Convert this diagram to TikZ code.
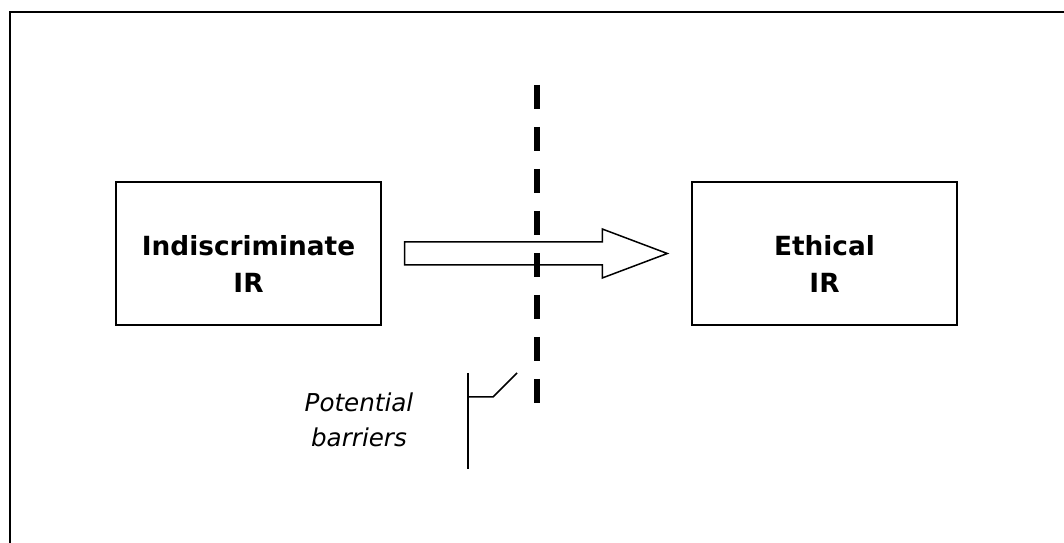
\documentclass[tikz,border=0pt]{standalone}
\usepackage{fontspec}
\setmainfont{DejaVu Sans}
\usetikzlibrary{positioning, calc}

\begin{document}
\begin{tikzpicture}[
    x=0.02cm, y=-0.02cm, % 按像素坐标布局 (y 轴向下)
    % 定义组件样式
    irbox/.style={draw=black, line width=0.03cm, minimum width=5.3cm, minimum height=2.86cm, inner sep=0pt},
    irlabel/.style={align=center, font=\fontsize{15}{21}\selectfont\bfseries},
    notelabel/.style={align=center, font=\fontsize{14}{19.8}\selectfont\itshape},
    blockarrow/.style={draw=black, fill=white, line width=0.03cm, line join=miter},
    barrier/.style={draw=black, line width=0.12cm, dash pattern=on 0.48cm off 0.36cm},
    line/.style={-, draw=black, line width=0.03cm},
    frame/.style={draw=black, line width=0.05cm}
]

% 核心 Y 轴高度定义
\def\Midheight{253.5} % 两个方框的中线
\def\Textheight{264}  % 方框内文字的中心

\useasboundingbox (0,0) rectangle (1064,543);

% ==========================================
% 1. 外框 (只有左边与上边落在画面内)
% ==========================================
\draw[frame] (10,560) |- (1080,12);

% ==========================================
% 2. 两个方框与文字
% ==========================================
\node[irbox] (indis) at (248.5, \Midheight) {};
\node[irbox] (ethic) at (824.5, \Midheight) {};

\node[irlabel] (indis_txt) at (248.5, \Textheight) {Indiscriminate\\IR};
\node[irlabel] (ethic_txt) at (824.5, \Textheight) {Ethical\\IR};

% ==========================================
% 3. 中间的空心箭头 (两端与方框留出空隙)
% ==========================================
\coordinate (tail) at ($(indis.east)+(23,0)$);
\coordinate (tip)  at ($(ethic.west)+(-24,0)$);
\draw[blockarrow] ($(tail)+(0,-11.5)$) -- ($(tip)+(-65,-11.5)$) -- ($(tip)+(-65,-24.5)$)
    -- (tip) -- ($(tip)+(-65,24.5)$) -- ($(tip)+(-65,11.5)$) -- ($(tail)+(0,11.5)$) -- cycle;

% ==========================================
% 4. 虚线屏障 (压在箭头上方)
% ==========================================
\coordinate (bar_top) at (537, 85);
\coordinate (bar_bot) at (537, 403);
\draw[barrier] (bar_top) -- (bar_bot);

% ==========================================
% 5. 标注与引线
% ==========================================
\node[notelabel] (note) at (359, 420) {Potential\\barriers};

\coordinate (brace_top) at (468, 373);
\coordinate (brace_bot) at (468, 469);
\coordinate (brace_mid) at (468, 397);
\draw[line] (brace_top) -- (brace_bot);
\draw[line] (brace_mid) -- ++(25,0) -- ++(24,-24); % 折线指向屏障

\end{tikzpicture}
\end{document}
